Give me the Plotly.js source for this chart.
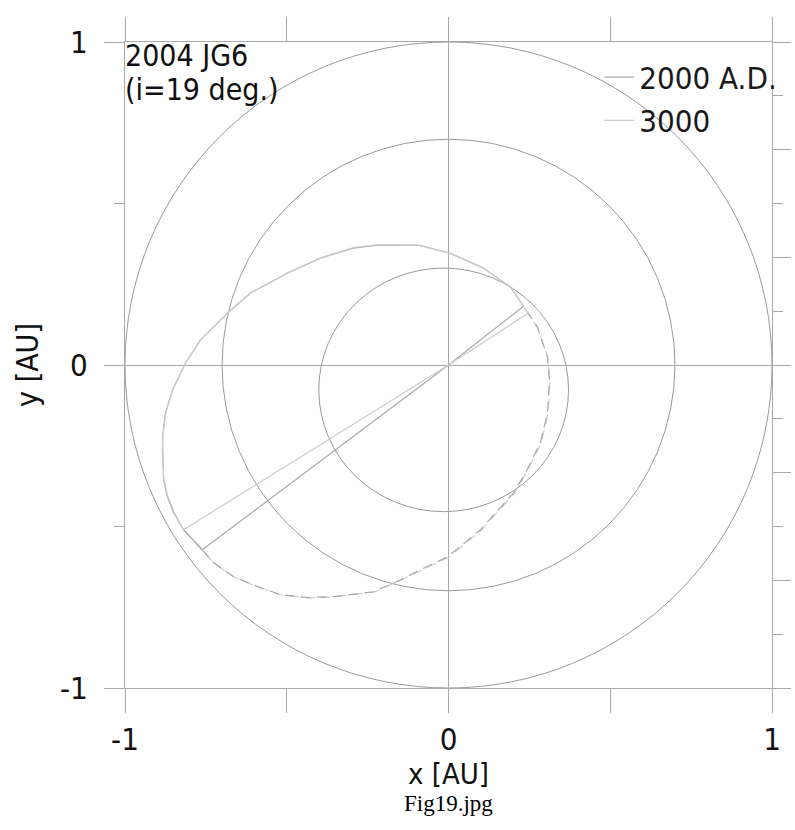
<!DOCTYPE html>
<html>
<head>
<meta charset="utf-8">
<script src="https://cdn.plot.ly/plotly-3.0.1.min.js"></script>
<style>
  html, body { margin: 0; padding: 0; background: #fff; }
  #chart { width: 795px; height: 830px; }
</style>
</head>
<body>
<div id="chart"></div>
<script>
// ---- planet orbits: centre and semi-axes in AU ----
const planetNames = ["Mercury", "Venus", "Earth"];
const planetCx = [-0.015, 0.0, 0.0];
const planetCy = [-0.077, 0.0, 0.0];
const planetRx = [0.386, 0.700, 1.0];
const planetRy = [0.377, 0.699, 1.0];

// ---- 2004 JG6 orbit, epoch 2000 A.D. ----
const orbit2000AboveX = [-0.761, -0.791, -0.819, -0.850, -0.869, -0.881, -0.884, -0.884, -0.875, -0.853, -0.813, -0.767, -0.683, -0.612, -0.498, -0.396, -0.294, -0.219, -0.148, -0.093, 0.006, 0.108, 0.192, 0.232];
const orbit2000AboveY = [-0.572, -0.541, -0.510, -0.457, -0.408, -0.355, -0.263, -0.223, -0.148, -0.077, 0.006, 0.077, 0.161, 0.223, 0.284, 0.331, 0.362, 0.371, 0.371, 0.371, 0.346, 0.300, 0.241, 0.182];
const orbit2000BelowX = [-0.761, -0.726, -0.665, -0.590, -0.519, -0.436, -0.355, -0.232, -0.148, -0.087, -0.003, 0.099, 0.201, 0.238, 0.284, 0.306, 0.312, 0.306, 0.275, 0.247, 0.232];
const orbit2000BelowY = [-0.572, -0.612, -0.655, -0.686, -0.711, -0.720, -0.717, -0.702, -0.665, -0.634, -0.594, -0.510, -0.396, -0.334, -0.241, -0.148, -0.046, 0.025, 0.117, 0.161, 0.182];
const nodes2000X = [-0.761, 0.0, 0.232];
const nodes2000Y = [-0.572, 0.0, 0.182];

// ---- 2004 JG6 orbit, epoch 3000 A.D. ----
const orbit3000AboveX = [-0.819, -0.848, -0.868, -0.880, -0.885, -0.883, -0.873, -0.851, -0.811, -0.764, -0.680, -0.610, -0.496, -0.393, -0.291, -0.216, -0.145, -0.090, 0.009, 0.111, 0.195, 0.232, 0.247];
const orbit3000AboveY = [-0.510, -0.455, -0.405, -0.352, -0.265, -0.220, -0.145, -0.073, 0.009, 0.080, 0.164, 0.225, 0.286, 0.333, 0.364, 0.373, 0.372, 0.370, 0.344, 0.298, 0.238, 0.180, 0.161];
const orbit3000BelowX = [-0.819, -0.790, -0.761, -0.724, -0.662, -0.588, -0.517, -0.433, -0.352, -0.230, -0.146, -0.085, 0.000, 0.101, 0.203, 0.240, 0.286, 0.308, 0.313, 0.307, 0.276, 0.247];
const orbit3000BelowY = [-0.510, -0.543, -0.574, -0.614, -0.657, -0.688, -0.712, -0.721, -0.718, -0.703, -0.666, -0.636, -0.596, -0.512, -0.398, -0.336, -0.243, -0.150, -0.048, 0.023, 0.115, 0.161];
const nodes3000X = [-0.819, 0.0, 0.247];
const nodes3000Y = [-0.510, 0.0, 0.161];

const seriesNames = ["2000 A.D.", "3000"];
const axisTicks = [-1, 0, 1];
const axisTickText = ["-1", "0", "1"];
const minorTicks = [-0.5, 0.5];

const FONT = "DejaVu Sans Condensed, DejaVu Sans, sans-serif";
const c2000 = "#a9a9a9";
const c3000 = "#cecece";
const gridC = "#a8a8a8";

const traces = [
  {x: orbit3000BelowX, y: orbit3000BelowY, mode: "lines", line: {color: c3000, width: 1.2, dash: "10px,6px"}, showlegend: false, hoverinfo: "skip"},
  {x: orbit2000BelowX, y: orbit2000BelowY, mode: "lines", line: {color: c2000, width: 1.2, dash: "10px,6px"}, showlegend: false, hoverinfo: "skip"},
  {x: nodes3000X, y: nodes3000Y, mode: "lines", line: {color: c3000, width: 1.3}, showlegend: false, hoverinfo: "skip", yaxis: "y2"},
  {x: nodes2000X, y: nodes2000Y, mode: "lines", line: {color: c2000, width: 1.2}, showlegend: false, hoverinfo: "skip"},
  {x: orbit2000AboveX, y: orbit2000AboveY, mode: "lines", name: seriesNames[0], line: {color: c2000, width: 1.2}, hoverinfo: "skip"},
  {x: orbit3000AboveX, y: orbit3000AboveY, mode: "lines", name: seriesNames[1], line: {color: c3000, width: 1.2}, hoverinfo: "skip"}
];

const shapes = planetNames.map((n, i) => ({
  type: "circle", xref: "x", yref: "y", layer: "below",
  x0: planetCx[i] - planetRx[i], x1: planetCx[i] + planetRx[i],
  y0: planetCy[i] - planetRy[i], y1: planetCy[i] + planetRy[i],
  line: {color: "#9a9a9a", width: 1}
}));

const layout = {
  width: 795, height: 830,
  margin: {l: 125, r: 23, t: 42, b: 142, pad: 0},
  paper_bgcolor: "#fff", plot_bgcolor: "#fff",
  showlegend: true,
  legend: {
    x: 0.733, xanchor: "left", y: 0.987, yanchor: "top",
    bgcolor: "rgba(0,0,0,0)", borderwidth: 0,
    font: {family: FONT, size: 31, color: "#1a1a1a"},
    tracegroupgap: 0
  },
  xaxis: {
    range: [-1, 1], fixedrange: true,
    tickmode: "array", tickvals: axisTicks, ticktext: axisTickText,
    ticks: "outside", ticklen: 24, tickwidth: 1, tickcolor: gridC,
    minor: {tickmode: "array", tickvals: minorTicks, ticks: "outside", ticklen: 10, tickcolor: gridC, showgrid: false},
    showline: true, linecolor: gridC, linewidth: 1, mirror: "allticks",
    showgrid: true, gridcolor: gridC, gridwidth: 1,
    zeroline: true, zerolinecolor: gridC, zerolinewidth: 1,
    tickfont: {family: FONT, size: 31, color: "#111"},
    title: {text: "x [AU]", font: {family: FONT, size: 29, color: "#111"}, standoff: 0}
  },
  yaxis: {
    range: [-1, 1], fixedrange: true,
    tickmode: "array", tickvals: axisTicks, ticktext: axisTickText,
    ticks: "outside", ticklen: 20, tickwidth: 1, tickcolor: gridC,
    minor: {tickmode: "array", tickvals: minorTicks, ticks: "outside", ticklen: 10, tickcolor: gridC, showgrid: false},
    showline: true, linecolor: gridC, linewidth: 1, mirror: false,
    showgrid: true, gridcolor: gridC, gridwidth: 1,
    zeroline: true, zerolinecolor: gridC, zerolinewidth: 1,
    ticklabelstandoff: 10,
    tickfont: {family: FONT, size: 31, color: "#111"},
    title: {text: "y [AU]", font: {family: FONT, size: 30, color: "#111"}, standoff: 12}
  },
  yaxis2: {
    overlaying: "y", side: "right", anchor: "x",
    range: [-1, 1], fixedrange: true,
    tickmode: "linear", tick0: 0, dtick: 1/3,
    ticks: "outside", ticklen: 18, tickwidth: 1, tickcolor: gridC,
    minor: {tickmode: "linear", tick0: 0, dtick: 1/6, ticks: "outside", ticklen: 10, tickcolor: gridC, showgrid: false},
    showline: true, linecolor: gridC, linewidth: 1,
    showgrid: false, zeroline: false, showticklabels: false
  },
  shapes: shapes,
  annotations: [
    {xref: "paper", yref: "paper", x: -0.003, y: 1.009, xanchor: "left", yanchor: "top", showarrow: false,
     text: "2004 JG6", font: {family: FONT, size: 30, color: "#111"}},
    {xref: "paper", yref: "paper", x: -0.003, y: 0.956, xanchor: "left", yanchor: "top", showarrow: false,
     text: "(i=19 deg.)", font: {family: FONT, size: 30, color: "#111"}},
    {xref: "paper", yref: "paper", x: 0.5, y: -0.156, xanchor: "center", yanchor: "top", showarrow: false,
     text: "Fig19.jpg", font: {family: "Liberation Serif, Times New Roman, serif", size: 23, color: "#000"}}
  ]
};

Plotly.newPlot("chart", traces, layout, {displayModeBar: false, staticPlot: true});
</script>
</body>
</html>
